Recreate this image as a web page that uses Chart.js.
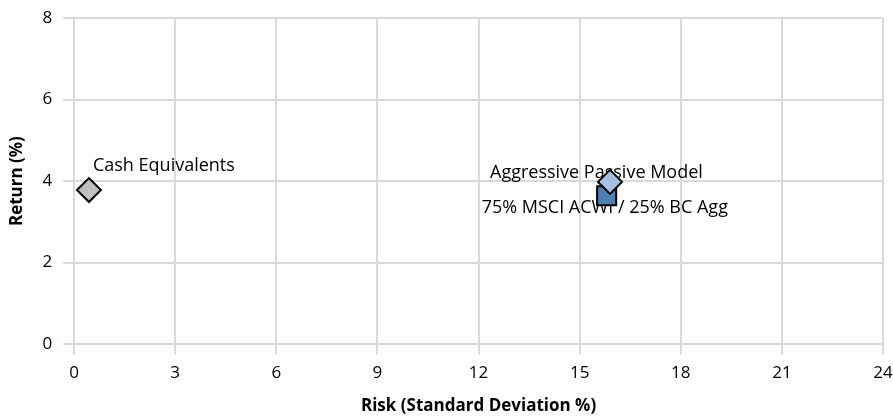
<!DOCTYPE html>
<html>
<head>
<meta charset="utf-8">
<style>
  html, body { margin: 0; padding: 0; background: #fff; }
  #wrap { width: 893px; height: 417px; }
</style>
</head>
<body>
<div id="wrap"><canvas id="riskReturn"></canvas></div>
<script src="https://cdn.jsdelivr.net/npm/chart.js@4.4.0/dist/chart.umd.min.js"></script>
<script>
// Data
const seriesNames = ['Cash Equivalents', 'Aggressive Passive Model', '75% MSCI ACWI / 25% BC Agg'];
const riskValues = [0.44, 15.9, 15.8];
const returnValues = [3.78, 3.98, 3.64];
const xTicks = [0, 3, 6, 9, 12, 15, 18, 21, 24];
const yTicks = [0, 2, 4, 6, 8];

const pointStyles = ['rectRot', 'rectRot', 'rect'];
const fills = ['#c0c0c0', '#a7c0de', '#4f7fb0'];
const radii = [12, 12, 13.5];
// label offsets in pixels relative to the point
const labelOffsets = [[4, -24], [-120, -9], [-125, 12]];

const fontFamily = "'Open Sans', sans-serif";

const datasets = seriesNames.map((name, i) => ({
    label: name,
    data: [{ x: riskValues[i], y: returnValues[i] }],
    pointStyle: pointStyles[i],
    backgroundColor: fills[i],
    borderColor: '#000',
    borderWidth: 2,
    pointRadius: radii[i],
    pointHoverRadius: radii[i]
}));

// draw the point labels under the markers
const pointLabels = {
    id: 'pointLabels',
    beforeDatasetsDraw(chart) {
        const ctx = chart.ctx;
        ctx.save();
        ctx.font = "18px " + fontFamily;
        ctx.fillStyle = '#000';
        ctx.textBaseline = 'middle';
        ctx.textAlign = 'left';
        chart.data.datasets.forEach((ds, i) => {
            const pt = chart.getDatasetMeta(i).data[0];
            ctx.fillText(ds.label, pt.x + labelOffsets[i][0], pt.y + labelOffsets[i][1]);
        });
        ctx.restore();
    }
};

new Chart(document.getElementById('riskReturn'), {
    type: 'scatter',
    data: { datasets: datasets },
    options: {
        responsive: true,
        maintainAspectRatio: false,
        animation: false,
        layout: { autoPadding: false, padding: { top: 18, right: 0, left: 4, bottom: 0 } },
        plugins: {
            legend: { display: false },
            tooltip: { enabled: false }
        },
        scales: {
            x: {
                type: 'linear',
                min: 0,
                max: 24,
                afterBuildTicks(axis) { axis.ticks = xTicks.map(v => ({ value: v })); },
                afterFit(axis) { axis.paddingRight = 10; },
                grid: { color: '#d9d9d9', lineWidth: 2, tickLength: 10 },
                border: { color: '#d9d9d9', width: 2 },
                ticks: { color: '#000', font: { family: fontFamily, size: 17 }, padding: 9 },
                title: {
                    display: true,
                    text: 'Risk (Standard Deviation %)',
                    color: '#000',
                    font: { family: fontFamily, size: 17, weight: 'bold' },
                    padding: { top: 3, bottom: 1 }
                }
            },
            y: {
                type: 'linear',
                min: 0,
                max: 8,
                afterBuildTicks(axis) { axis.ticks = yTicks.map(v => ({ value: v })); },
                afterFit(axis) { axis.paddingTop = 0; },
                grid: { color: '#d9d9d9', lineWidth: 2, tickLength: 11 },
                border: { color: '#d9d9d9', width: 2 },
                ticks: { color: '#000', font: { family: fontFamily, size: 17 }, padding: 11 },
                title: {
                    display: true,
                    text: 'Return (%)',
                    color: '#000',
                    font: { family: fontFamily, size: 17, weight: 'bold' },
                    padding: { top: 3, bottom: 4 }
                }
            }
        }
    },
    plugins: [pointLabels]
});
</script>
</body>
</html>
